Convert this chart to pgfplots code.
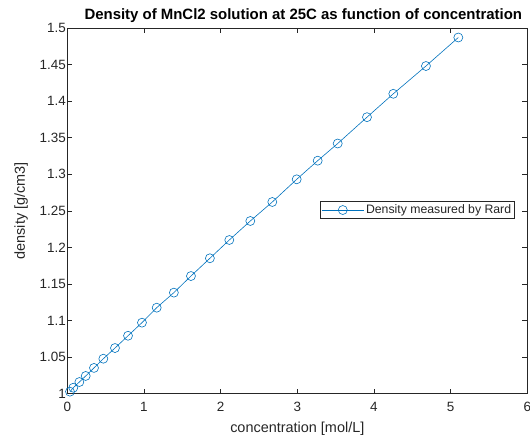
\documentclass[border=0pt]{standalone}
\usepackage{fontspec}
\setmainfont{Liberation Sans}
\usepackage{pgfplots}
\pgfplotsset{compat=1.18}
\definecolor{mblue}{rgb}{0,0.447,0.741}
\definecolor{axgray}{rgb}{0.15,0.15,0.15}
\begin{document}
\begin{tikzpicture}
\begin{axis}[
  name=ax,
  scale only axis,
  width=460bp, height=365.5bp,
  xmin=0, xmax=6, ymin=1, ymax=1.5,
  xtick={0,1,2,3,4,5,6},
  ytick={1,1.05,1.1,1.15,1.2,1.25,1.3,1.35,1.4,1.45,1.5},
  tick align=inside,
  major tick length=5bp,
  axis line style={axgray, line width=0.5pt},
  tick style={axgray, line width=0.5pt},
  /pgf/number format/assume math mode=true,
  yticklabel style={/pgf/number format/fixed, /pgf/number format/precision=2, font=\fontsize{13.5}{15}\selectfont, text=axgray, xshift=2bp},
  xticklabel style={font=\fontsize{13.5}{15}\selectfont, text=axgray, yshift=-5bp},
  title={\textbf{Density of MnCl2 solution at 25C as function of concentration}},
  title style={font=\fontsize{15}{17}\selectfont, yshift=-4bp, xshift=6bp},
  xlabel={concentration [mol/L]},
  ylabel={density [g/cm3]},
  xlabel style={font=\fontsize{14.5}{16}\selectfont, text=axgray, yshift=-4bp},
  ylabel style={font=\fontsize{14.5}{16}\selectfont, text=axgray, yshift=5bp},
  legend style={at={(0.973,0.502)}, anchor=east, font=\fontsize{12.3}{14}\selectfont, text=axgray, draw=axgray, line width=0.5pt, inner sep=1.5pt},
  legend cell align=left,
  legend image code/.code={\draw[mark repeat=2,mark phase=2,#1] plot coordinates {(0bp,0bp) (21bp,0bp) (42bp,0bp)};},
]
\addplot[mblue, line width=0.6pt, mark=o, mark size=4.5bp, mark options={line width=0.6pt}] coordinates {
(0.035,1.0025) (0.078,1.0079) (0.157,1.0157) (0.240,1.0240) (0.348,1.0350)
(0.470,1.0476) (0.622,1.0622) (0.792,1.0790) (0.974,1.0969) (1.166,1.1174)
(1.390,1.1380) (1.613,1.1607) (1.860,1.1850) (2.113,1.2100) (2.387,1.2360)
(2.674,1.2620) (2.992,1.2930) (3.266,1.3185) (3.527,1.3420) (3.909,1.3780)
(4.252,1.4100) (4.678,1.4480) (5.100,1.4870)
};
\addlegendentry{Density measured by Rard}
\end{axis}
\pgfresetboundingbox
\useasboundingbox ([xshift=-67.3bp,yshift=-47.5bp]ax.south west) rectangle ([xshift=2.7bp,yshift=28bp]ax.north east);
\end{tikzpicture}
\end{document}
